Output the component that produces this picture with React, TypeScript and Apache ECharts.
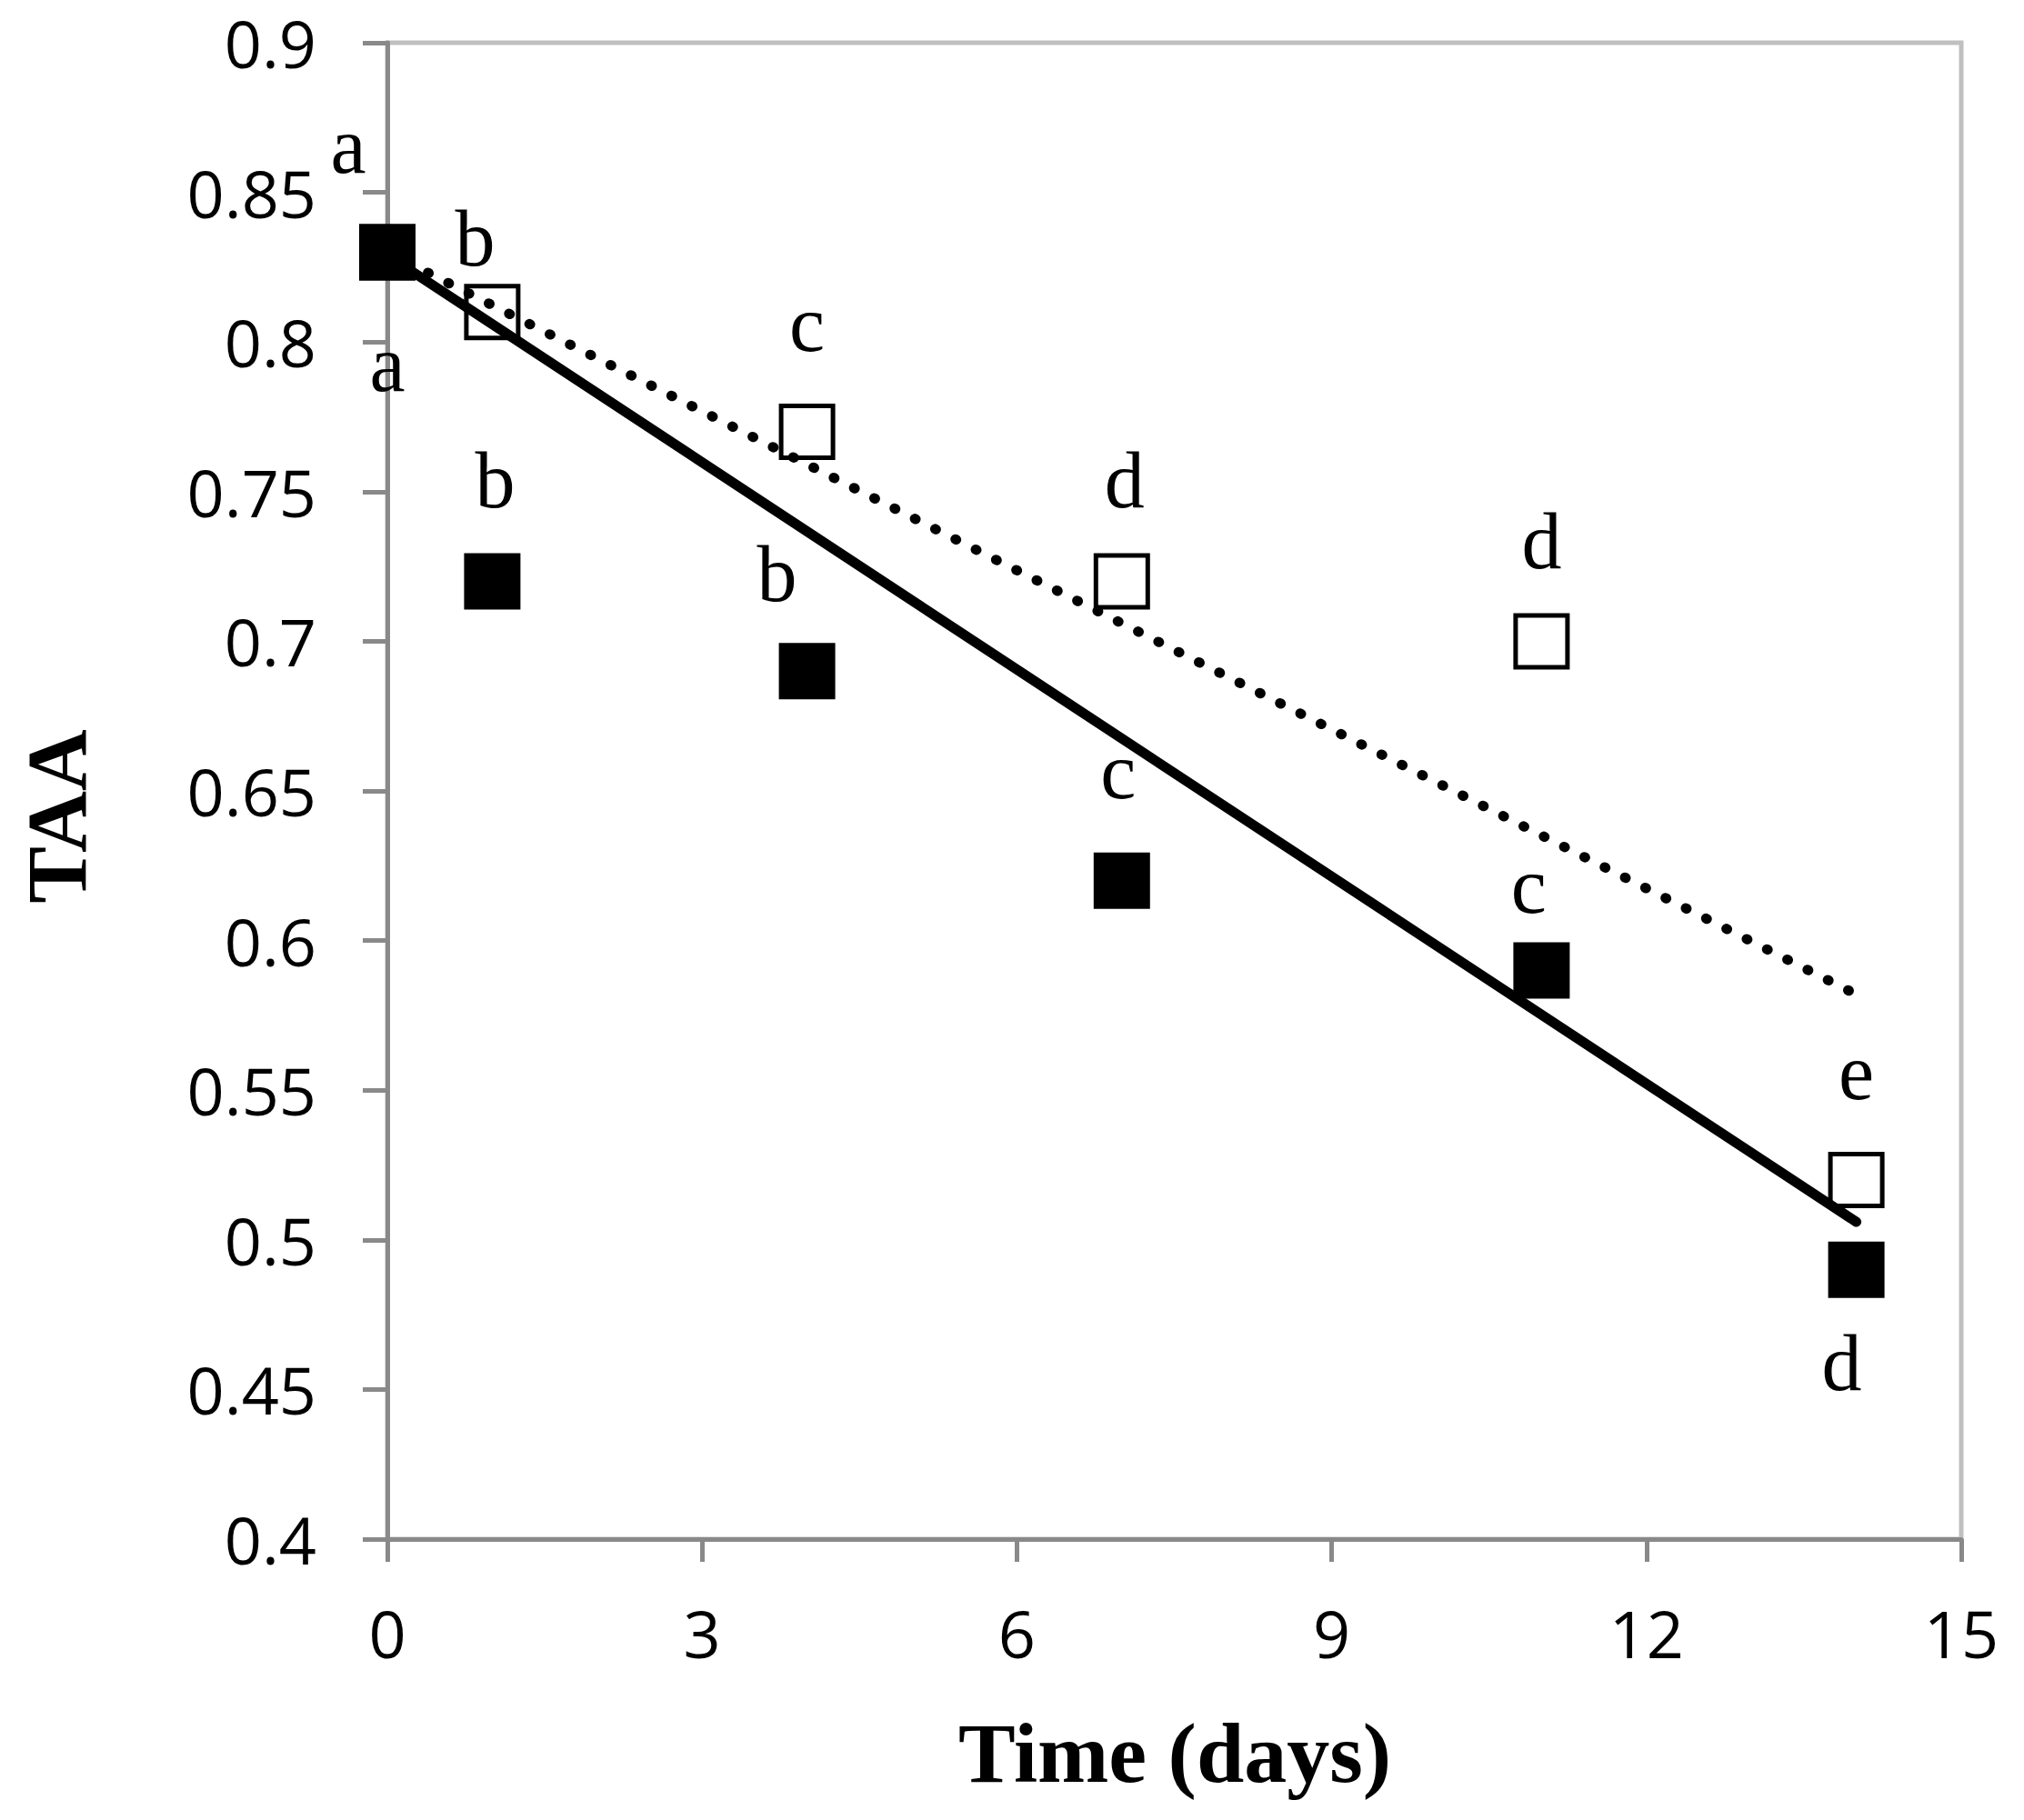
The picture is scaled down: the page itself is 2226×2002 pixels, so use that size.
import React, { useEffect, useRef } from 'react';
import * as echarts from 'echarts';

// ---- data ----
const days = [0, 1, 4, 7, 11, 14];
const filledTAA = [0.83, 0.72, 0.69, 0.62, 0.59, 0.49];
const openTAA = [0.83, 0.81, 0.77, 0.72, 0.7, 0.52];
const filledLetters = ['a', 'b', 'b', 'c', 'c', 'd'];
const openLetters = ['a', 'b', 'c', 'd', 'd', 'e'];
const filledTrend = [
  [0, 0.829],
  [14, 0.506],
];
const openTrend = [
  [0, 0.83],
  [14, 0.582],
];
const xTickLabels = ['0', '3', '6', '9', '12', '15'];
const yTickLabels = ['0.4', '0.45', '0.5', '0.55', '0.6', '0.65', '0.7', '0.75', '0.8', '0.85', '0.9'];

// label placement (pixel offsets from the marker centre)
const filledLabelOffsets = [
  [0, 123],
  [3, -111],
  [-33, -107],
  [-4, -120],
  [-14, -93],
  [-16, 103],
];
const openLabelOffsets = [
  [-43, -117],
  [-19, -81],
  [0, -118],
  [3, -111],
  [0, -110],
  [0, -118],
];

const W = 2226;
const H = 2002;

const letterStyle = {
  show: true,
  position: 'inside' as const,
  fontFamily: 'Liberation Serif',
  fontSize: 88,
  color: '#000',
  opacity: 1,
  align: 'center' as const,
  verticalAlign: 'middle' as const,
};

export default function App() {
  const ref = useRef<HTMLDivElement>(null);
  useEffect(() => {
    if (!ref.current) return;
    const chart = echarts.init(ref.current, null, { renderer: 'svg' });
    const axisGray = '#898989';
    const option = {
      animation: false,
      backgroundColor: '#ffffff',
      grid: {
        left: 426,
        right: W - 2157,
        top: 47,
        bottom: H - 1693,
        show: true,
        borderColor: '#c0c0c0',
        borderWidth: 5,
        backgroundColor: 'transparent',
        containLabel: false,
      },
      xAxis: {
        type: 'value',
        min: 0,
        max: 15,
        interval: 3,
        axisLine: { show: true, lineStyle: { color: axisGray, width: 5 } },
        axisTick: { show: true, length: 25, lineStyle: { color: axisGray, width: 5 } },
        splitLine: { show: false },
        axisLabel: {
          fontFamily: 'Open Sans',
          fontSize: 72,
          lineHeight: 72,
          color: '#000',
          margin: 67,
          formatter: (v: number) => xTickLabels[Math.round(v / 3)] ?? String(v),
        },
      },
      yAxis: {
        type: 'value',
        min: 0.4,
        max: 0.9,
        interval: 0.05,
        axisLine: { show: true, lineStyle: { color: axisGray, width: 5 } },
        axisTick: { show: true, length: 27, lineStyle: { color: axisGray, width: 5 } },
        splitLine: { show: false },
        axisLabel: {
          fontFamily: 'Open Sans',
          fontSize: 72,
          lineHeight: 72,
          color: '#000',
          margin: 78,
          formatter: (v: number) => yTickLabels[Math.round((v - 0.4) / 0.05)] ?? String(v),
        },
      },
      graphic: [
        {
          type: 'text',
          x: 62,
          y: 898,
          rotation: Math.PI / 2,
          style: {
            text: 'TAA',
            font: 'bold 94px "Liberation Serif"',
            fill: '#000',
            align: 'center',
            verticalAlign: 'middle',
          },
        },
        {
          type: 'text',
          x: 1292,
          y: 1928,
          style: {
            text: 'Time (days)',
            font: 'bold 94px "Liberation Serif"',
            fill: '#000',
            align: 'center',
            verticalAlign: 'middle',
          },
        },
      ],
      series: [
        {
          name: 'open',
          type: 'scatter',
          symbol: 'rect',
          symbolSize: 57,
          itemStyle: { color: '#ffffff', borderColor: '#000', borderWidth: 5, opacity: 1 },
          data: days.map((d, i) => ({
            value: [d, openTAA[i]],
            label: { ...letterStyle, formatter: openLetters[i], offset: openLabelOffsets[i] },
          })),
        },
        {
          name: 'filled',
          type: 'scatter',
          symbol: 'rect',
          symbolSize: 62,
          itemStyle: { color: '#000', opacity: 1 },
          data: days.map((d, i) => ({
            value: [d, filledTAA[i]],
            label: { ...letterStyle, formatter: filledLetters[i], offset: filledLabelOffsets[i] },
          })),
        },
        {
          name: 'open trend',
          type: 'line',
          data: openTrend,
          showSymbol: false,
          symbol: 'none',
          lineStyle: { color: '#000', width: 11, type: [1, 24], cap: 'round' },
          z: 3,
        },
        {
          name: 'filled trend',
          type: 'line',
          data: filledTrend,
          showSymbol: false,
          symbol: 'none',
          lineStyle: { color: '#000', width: 11, cap: 'round' },
          z: 3,
        },
      ],
    };
    chart.setOption(option as any);
    return () => chart.dispose();
  }, []);
  return (
    <div
      ref={ref}
      style={{ position: 'absolute', left: 0, top: 0, width: W, height: H, background: '#fff' }}
    />
  );
}
